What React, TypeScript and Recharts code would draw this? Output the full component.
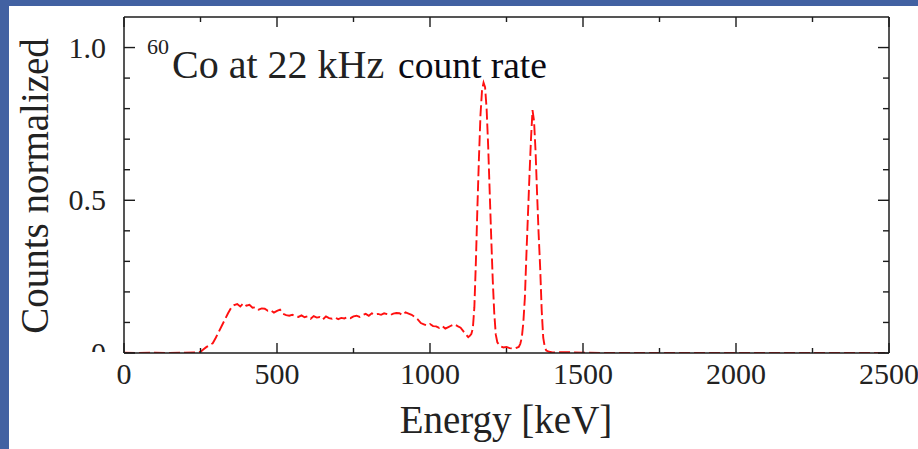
import React from 'react';
import { LineChart, Line, XAxis, YAxis, Customized } from 'recharts';

const energies = [
  0, 50, 100, 150, 200, 240, 250, 260, 270, 280, 290, 300, 310, 320, 330, 340, 350, 360, 370, 380,
  390, 400, 410, 420, 430, 440, 450, 460, 470, 480, 490, 500, 510, 520, 530, 540, 550, 560, 570, 580,
  590, 600, 610, 620, 630, 640, 650, 660, 670, 680, 690, 700, 710, 720, 730, 740, 750, 760, 770, 780,
  790, 800, 810, 820, 830, 840, 850, 860, 870, 880, 890, 900, 910, 920, 930, 940, 950, 960, 970, 980,
  990, 1000, 1010, 1020, 1030, 1040, 1050, 1060, 1070, 1080, 1090, 1100, 1110, 1120, 1125, 1130, 1135, 1140, 1145, 1150,
  1155, 1160, 1165, 1170, 1175, 1180, 1185, 1190, 1195, 1200, 1205, 1210, 1215, 1220, 1230, 1240, 1250, 1260, 1270, 1280,
  1290, 1295, 1300, 1305, 1310, 1315, 1320, 1325, 1330, 1335, 1340, 1345, 1350, 1355, 1360, 1365, 1370, 1375, 1380, 1390,
  1400, 1450, 1500, 1600, 2000, 2500,
];

const counts = [
  0.001, 0.0, 0.001, 0.0, 0.001, 0.002, 0.004, 0.012, 0.02, 0.026, 0.032, 0.05, 0.07, 0.09, 0.11, 0.13, 0.148, 0.157, 0.16, 0.152,
  0.163, 0.155, 0.158, 0.148, 0.15, 0.142, 0.146, 0.145, 0.138, 0.14, 0.132, 0.138, 0.142, 0.128, 0.124, 0.122, 0.125, 0.12, 0.118, 0.123,
  0.117, 0.12, 0.112, 0.121, 0.116, 0.118, 0.11, 0.12, 0.114, 0.112, 0.116, 0.111, 0.115, 0.113, 0.117, 0.114, 0.12, 0.122, 0.118, 0.124,
  0.128, 0.122, 0.13, 0.126, 0.128, 0.125, 0.13, 0.127, 0.124, 0.129, 0.131, 0.13, 0.124, 0.133, 0.129, 0.125, 0.118, 0.11, 0.098, 0.094,
  0.09, 0.095, 0.088, 0.087, 0.082, 0.088, 0.08, 0.085, 0.09, 0.094, 0.088, 0.083, 0.07, 0.058, 0.052, 0.056, 0.062, 0.08, 0.15, 0.3,
  0.48, 0.64, 0.78, 0.86, 0.885, 0.87, 0.8, 0.68, 0.53, 0.38, 0.24, 0.13, 0.06, 0.035, 0.022, 0.018, 0.02, 0.016, 0.015, 0.016,
  0.02, 0.03, 0.05, 0.1, 0.18, 0.32, 0.45, 0.58, 0.7, 0.795, 0.76, 0.66, 0.52, 0.39, 0.28, 0.14, 0.05, 0.02, 0.008, 0.004,
  0.002, 0.003, 0.001, 0.0, 0.0, 0.0,
];

const xTicks = [0, 250, 500, 750, 1000, 1250, 1500, 1750, 2000, 2250, 2500];
const xTickLabels = ['0', '', '500', '', '1000', '', '1500', '', '2000', '', '2500'];
const yTicks = [0, 0.1, 0.2, 0.3, 0.4, 0.5, 0.6, 0.7, 0.8, 0.9, 1.0];
const yTickLabels = ['0', '', '', '', '', '0.5', '', '', '', '', '1.0'];

const xAxisLabel = 'Energy [keV]';
const yAxisLabel = 'Counts normalized';
const isotopeMass = '60';
const titleMain = 'Co at 22 kHz';
const titleExtra = 'count rate';

const data = energies.map((e, i) => ({ e, c: counts[i] }));

const SERIF = '"Liberation Serif", "Times New Roman", serif';
const AXIS_COLOR = '#1c1c1c';

const xLabelFor = (v: number) => xTickLabels[xTicks.indexOf(v)] || '';
const yLabelFor = (v: number) => {
  const i = yTicks.findIndex((t) => Math.abs(t - v) < 1e-9);
  return i >= 0 ? yTickLabels[i] : '';
};

const BottomTick = (props: any) => {
  const { x, y, payload } = props;
  const lab = xLabelFor(payload.value);
  const len = lab ? 10 : 5;
  return (
    <g>
      <line x1={x} x2={x} y1={y} y2={y - len} stroke={AXIS_COLOR} strokeWidth={1.4} />
      {lab ? (
        <text x={x} y={y + 31} textAnchor="middle" fontFamily={SERIF} fontSize={30} fill="#222">
          {lab}
        </text>
      ) : null}
    </g>
  );
};

const TopTick = (props: any) => {
  const { x, y, payload } = props;
  const lab = xLabelFor(payload.value);
  const len = lab ? 10 : 5;
  return <line x1={x} x2={x} y1={y} y2={y + len} stroke={AXIS_COLOR} strokeWidth={1.4} />;
};

const LeftTick = (props: any) => {
  const { x, y, payload } = props;
  const lab = yLabelFor(payload.value);
  const len = lab ? 11 : 6;
  return (
    <g>
      <defs>
        <clipPath id="yTickClip">
          <rect x={0} y={0} width={130} height={352} />
        </clipPath>
      </defs>
      <line x1={x} x2={x + len} y1={y} y2={y} stroke={AXIS_COLOR} strokeWidth={1.4} />
      {lab ? (
        <text
          x={x - 18}
          y={y + 10}
          textAnchor="end"
          fontFamily={SERIF}
          fontSize={30}
          fill="#222"
          clipPath="url(#yTickClip)"
        >
          {lab}
        </text>
      ) : null}
    </g>
  );
};

const RightTick = (props: any) => {
  const { x, y, payload } = props;
  const lab = yLabelFor(payload.value);
  const len = lab ? 11 : 6;
  return <line x1={x} x2={x - len} y1={y} y2={y} stroke={AXIS_COLOR} strokeWidth={1.4} />;
};

const Texts = () => (
  <g>
    <text x={506} y={433} textAnchor="middle" fontFamily={SERIF} fontSize={39} fill="#222">
      {xAxisLabel}
    </text>
    <text
      x={0}
      y={0}
      transform="translate(48,186) rotate(-90)"
      textAnchor="middle"
      fontFamily={SERIF}
      fontSize={39}
      fill="#222"
    >
      {yAxisLabel}
    </text>
    <text x={147} y={54} fontFamily={SERIF} fontSize={22} fill="#222">
      {isotopeMass}
    </text>
    <text x={172} y={78} fontFamily={SERIF} fontSize={40} fill="#222">
      {titleMain}
    </text>
    <text x={398} y={78} fontFamily={SERIF} fontSize={37.5} fill="#0a0a14">
      {titleExtra}
    </text>
  </g>
);

export default function App() {
  return (
    <div
      style={{
        position: 'absolute',
        left: 0,
        top: 0,
        width: 918,
        height: 449,
        background: '#ffffff',
        overflow: 'hidden',
      }}
    >
      <LineChart
        width={918}
        height={449}
        data={data}
        margin={{ top: 16, right: 28, bottom: 0, left: 0 }}
      >
        <XAxis
          xAxisId="b"
          dataKey="e"
          type="number"
          domain={[0, 2500]}
          ticks={xTicks}
          interval={0}
          height={96}
          tickSize={0}
          tickMargin={0}
          tickLine={false}
          axisLine={{ stroke: AXIS_COLOR, strokeWidth: 1.5 }}
          tick={<BottomTick />}
        />
        <XAxis
          xAxisId="t"
          orientation="top"
          dataKey="e"
          type="number"
          domain={[0, 2500]}
          ticks={xTicks}
          interval={0}
          height={1}
          tickSize={0}
          tickMargin={0}
          tickLine={false}
          axisLine={{ stroke: AXIS_COLOR, strokeWidth: 1.5 }}
          tick={<TopTick />}
        />
        <YAxis
          yAxisId="l"
          type="number"
          domain={[0, 1.1]}
          ticks={yTicks}
          interval={0}
          width={124}
          tickSize={0}
          tickMargin={0}
          tickLine={false}
          allowDataOverflow
          axisLine={{ stroke: AXIS_COLOR, strokeWidth: 1.5 }}
          tick={<LeftTick />}
        />
        <YAxis
          yAxisId="r"
          orientation="right"
          type="number"
          domain={[0, 1.1]}
          ticks={yTicks}
          interval={0}
          width={1}
          tickSize={0}
          tickMargin={0}
          tickLine={false}
          allowDataOverflow
          axisLine={{ stroke: AXIS_COLOR, strokeWidth: 1.5 }}
          tick={<RightTick />}
        />
        <Line
          xAxisId="b"
          yAxisId="l"
          type="linear"
          dataKey="c"
          stroke="#ff1010"
          strokeWidth={1.9}
          strokeDasharray="11 4"
          dot={false}
          isAnimationActive={false}
        />
        <Line
          xAxisId="t"
          yAxisId="r"
          type="linear"
          dataKey="c"
          stroke="none"
          dot={false}
          activeDot={false}
          isAnimationActive={false}
        />
        <Customized component={Texts} />
      </LineChart>
      <div style={{ position: 'absolute', left: 0, top: 0, width: 918, height: 6, background: '#4261a2' }} />
      <div style={{ position: 'absolute', left: 0, top: 0, width: 9, height: 449, background: '#4261a2' }} />
    </div>
  );
}
